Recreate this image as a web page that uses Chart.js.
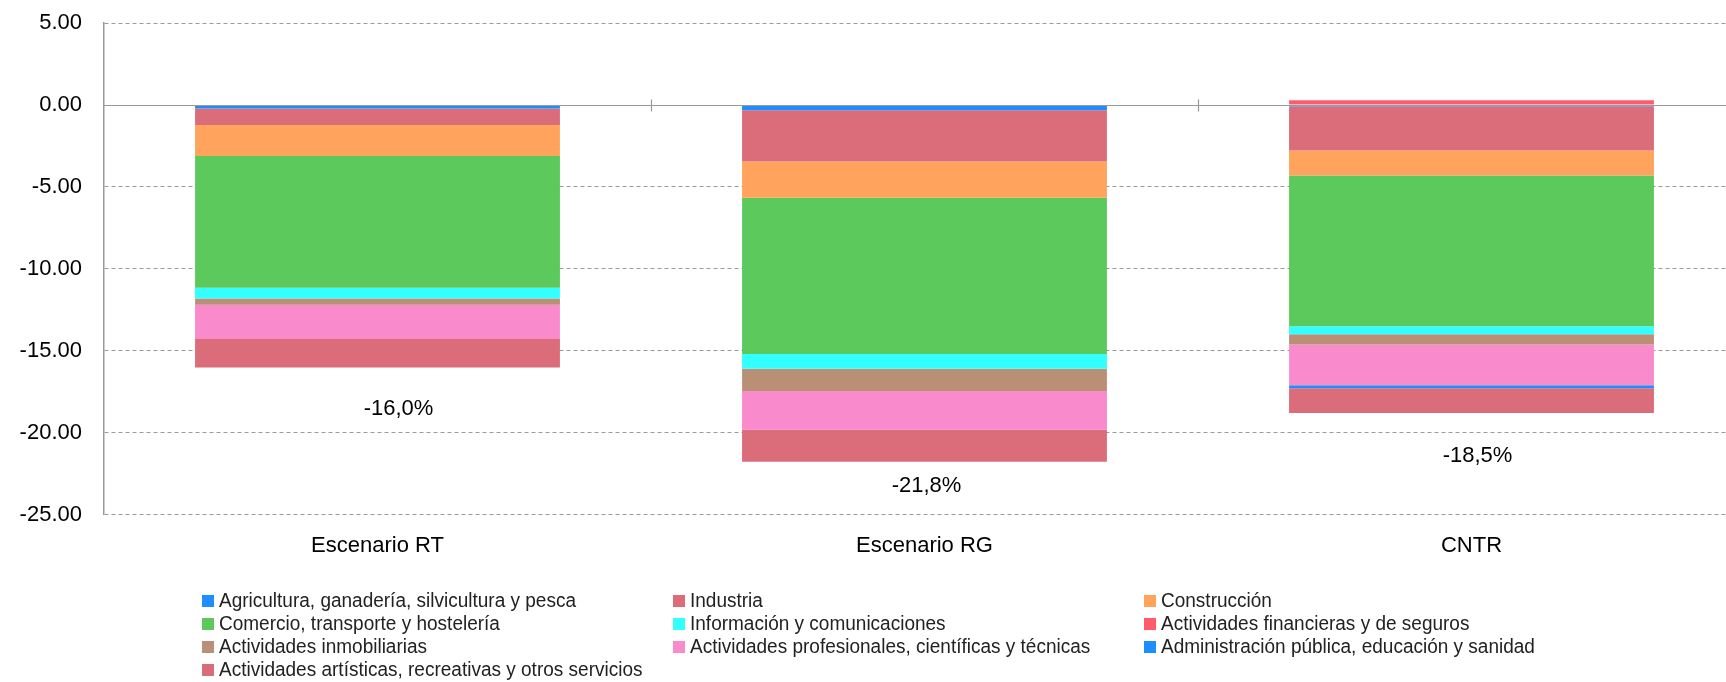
<!DOCTYPE html>
<html>
<head>
<meta charset="utf-8">
<script src="https://cdn.jsdelivr.net/npm/chart.js@4"></script>
<style>
html, body { margin: 0; padding: 0; background: #fff; overflow: hidden; }
#wrap { width: 1760px; height: 682px; position: relative; }
</style>
</head>
<body>
<div id="wrap"><canvas id="chart"></canvas></div>
<script>
// categories and series
const categories = ['Escenario RT', 'Escenario RG', 'CNTR'];
const sectors = [
    'Agricultura, ganadería, silvicultura y pesca',
    'Industria',
    'Construcción',
    'Comercio, transporte y hostelería',
    'Información y comunicaciones',
    'Actividades financieras y de seguros',
    'Actividades inmobiliarias',
    'Actividades profesionales, científicas y técnicas',
    'Administración pública, educación y sanidad',
    'Actividades artísticas, recreativas y otros servicios'
];
const agricultura    = [-0.22, -0.33, -0.10];
const industria      = [-1.00, -3.12, -2.68];
const construccion   = [-1.90, -2.22, -1.53];
const comercio       = [-8.04, -9.53, -9.19];
const informacion    = [-0.65, -0.90, -0.49];
const financieras    = [0.00, 0.00, 0.28];
const inmobiliarias  = [-0.39, -1.35, -0.63];
const profesionales  = [-2.08, -2.37, -2.49];
const administracion = [0.00, 0.00, -0.18];
const artisticas     = [-1.75, -1.96, -1.51];
const totals = [-16.0, -21.8, -18.5];
const yTicks = [5, 0, -5, -10, -15, -20, -25];

const series = [agricultura, industria, construccion, comercio, informacion,
    financieras, inmobiliarias, profesionales, administracion, artisticas];
const colors = ['#1e8eff', '#db6c79', '#ffa35d', '#5cc95c', '#33ffff',
    '#ff5c6b', '#b98f75', '#f98acb', '#1e8eff', '#db6c79'];

// where the total labels sit (value units) and a small nudge sideways
const totalLabelY = [-18.57, -23.23, -21.39];
const totalLabelDx = [21, 2, 6];

const FONT = "'Liberation Sans', Arial, sans-serif";

const zeroLinePlugin = {
    id: 'zeroLine',
    afterDatasetsDraw(chart) {
        const ctx = chart.ctx;
        const x = chart.scales.x, y = chart.scales.y;
        const y0 = Math.round(y.getPixelForValue(0)) + 0.5;
        ctx.save();
        ctx.strokeStyle = '#999';
        ctx.lineWidth = 1.2;
        ctx.beginPath();
        ctx.moveTo(chart.chartArea.left, y0);
        ctx.lineTo(chart.chartArea.right, y0);
        // small tick marks between categories
        for (let i = 0; i < categories.length - 1; i++) {
            const xb = Math.round((x.getPixelForValue(i) + x.getPixelForValue(i + 1)) / 2) + 0.5;
            ctx.moveTo(xb, y0 - 6);
            ctx.lineTo(xb, y0 + 6);
        }
        ctx.stroke();

        // totals under the bars
        ctx.fillStyle = '#000';
        ctx.font = '22px ' + FONT;
        ctx.textAlign = 'center';
        ctx.textBaseline = 'middle';
        totals.forEach((t, i) => {
            const tx = x.getPixelForValue(i) + totalLabelDx[i];
            const ty = y.getPixelForValue(totalLabelY[i]);
            ctx.fillText(t.toFixed(1).replace('.', ',') + '%', tx, ty);
        });
        ctx.restore();
    }
};

const legendPlugin = {
    id: 'gridLegend',
    afterDraw(chart) {
        const ctx = chart.ctx;
        ctx.save();
        ctx.font = '19.5px ' + FONT;
        ctx.textBaseline = 'middle';
        ctx.textAlign = 'left';
        // the original legend uses a narrow face, squeeze a little
        const sx = 357 / ctx.measureText(sectors[0]).width;
        sectors.forEach((name, i) => {
            const col = i % 3, row = Math.floor(i / 3);
            const bx = 202 + col * 471;
            const by = 601 + row * 23;
            ctx.fillStyle = colors[i];
            ctx.fillRect(bx, by - 6, 12, 12);
            ctx.fillStyle = '#222';
            ctx.save();
            ctx.translate(bx + 17, by + 1);
            ctx.scale(sx, 1);
            ctx.fillText(name, 0, 0);
            ctx.restore();
        });
        ctx.restore();
    }
};

new Chart(document.getElementById('chart'), {
    type: 'bar',
    data: {
        labels: categories,
        datasets: series.map((data, i) => ({
            label: sectors[i],
            data: data,
            backgroundColor: colors[i],
            borderWidth: 0,
            barPercentage: 0.667,
            categoryPercentage: 1.0
        }))
    },
    options: {
        responsive: true,
        maintainAspectRatio: false,
        animation: false,
        layout: { padding: { top: 23, right: 15, bottom: 113, left: 0 } },
        plugins: {
            legend: { display: false },
            tooltip: { enabled: false }
        },
        scales: {
            x: {
                stacked: true,
                grid: { display: false },
                border: { display: false },
                ticks: { color: '#000', font: { family: FONT, size: 22 }, padding: 10 }
            },
            y: {
                stacked: true,
                min: -25,
                max: 5,
                afterFit(scale) {
                    scale.width = 104;
                    scale.paddingTop = 0;
                    scale.paddingBottom = 0;
                },
                afterBuildTicks(scale) { scale.ticks = yTicks.map(v => ({ value: v })); },
                grid: {
                    drawTicks: false,
                    color: ctx => (ctx.tick && ctx.tick.value === 0) ? 'rgba(0,0,0,0)' : '#9a9a9a',
                    lineWidth: 1
                },
                border: { display: true, color: '#999', width: 1.5, dash: [4, 3] },
                ticks: {
                    color: '#000',
                    padding: 22,
                    font: { family: FONT, size: 22 },
                    callback: v => v.toFixed(2)
                }
            }
        }
    },
    plugins: [zeroLinePlugin, legendPlugin]
});
</script>
</body>
</html>
